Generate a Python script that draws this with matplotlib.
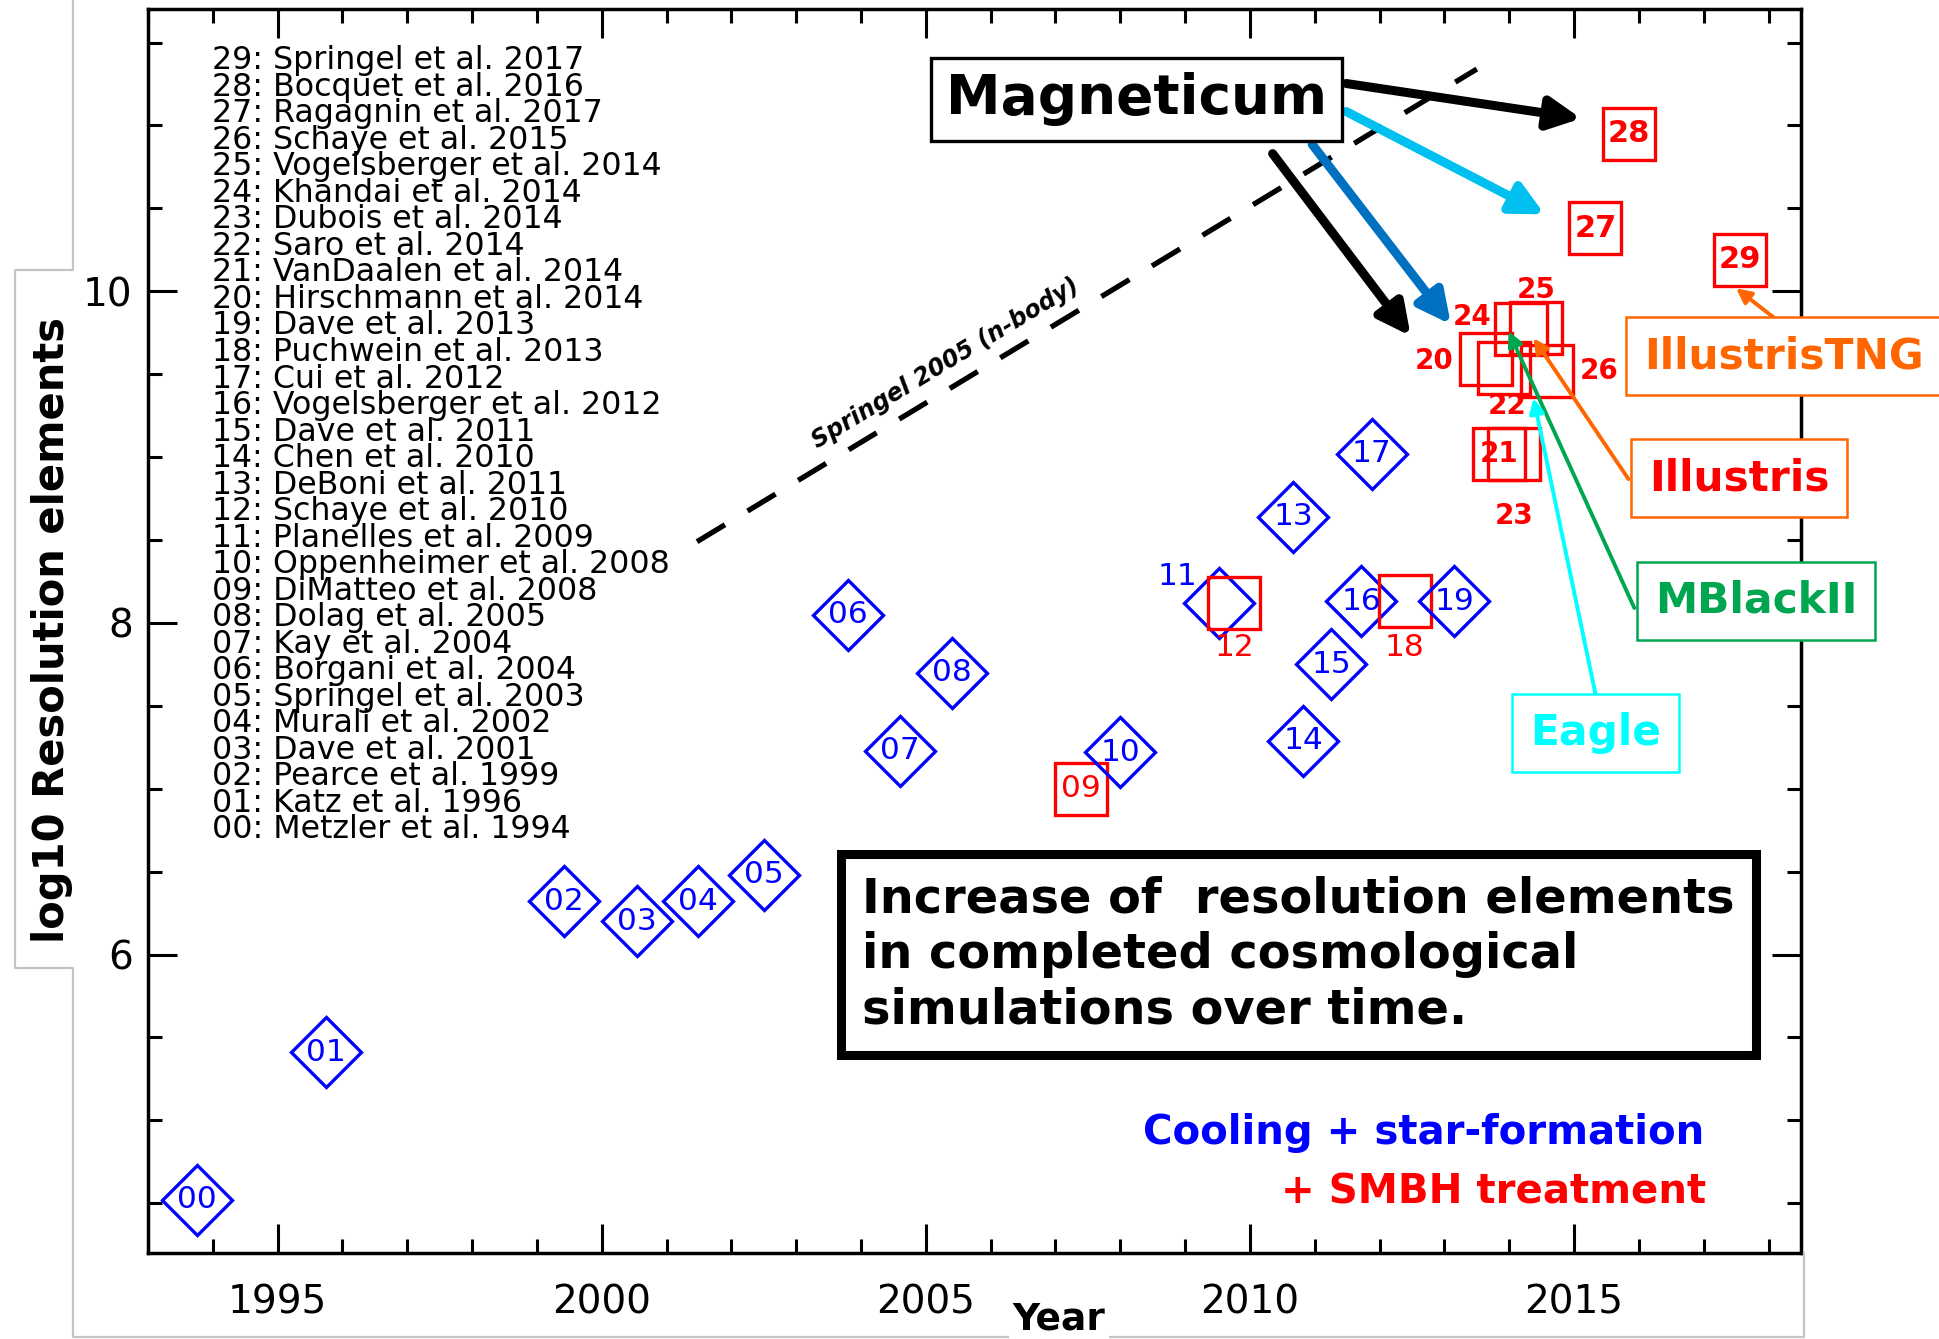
import matplotlib
matplotlib.use("Agg")
import matplotlib.pyplot as plt
from matplotlib.lines import Line2D
from matplotlib.ticker import MultipleLocator

#----------- Data -----------#
sim_ids = ["00", "01", "02", "03", "04", "05", "06", "07", "08", "09",
           "10", "11", "12", "13", "14", "15", "16", "17", "18", "19",
           "20", "21", "22", "23", "24", "25", "26", "27", "28", "29"]
sim_years = [1993.75, 1995.75, 1999.42, 2000.55, 2001.48, 2002.50, 2003.80, 2004.60, 2005.40, 2007.40,
             2008.00, 2009.52, 2009.76, 2010.67, 2010.82, 2011.25, 2011.72, 2011.88, 2012.39, 2013.15,
             2013.64, 2013.84, 2013.92, 2014.08, 2014.18, 2014.41, 2014.59, 2015.33, 2015.84, 2017.56]
sim_logn = [4.52, 5.41, 6.32, 6.20, 6.32, 6.48, 8.05, 7.23, 7.70, 7.00,
            7.22, 8.12, 8.12, 8.64, 7.29, 7.75, 8.13, 9.02, 8.13, 8.13,
            9.59, 9.02, 9.54, 9.02, 9.77, 9.78, 9.52, 10.38, 10.95, 10.19]
# runs with black hole treatment (red squares), the rest are blue diamonds
smbh_ids = ["09", "12", "18", "20", "21", "22", "23", "24", "25", "26", "27", "28", "29"]

ref_authors = ["Springel", "Bocquet", "Ragagnin", "Schaye", "Vogelsberger", "Khandai",
               "Dubois", "Saro", "VanDaalen", "Hirschmann", "Dave", "Puchwein", "Cui",
               "Vogelsberger", "Dave", "Chen", "DeBoni", "Schaye", "Planelles",
               "Oppenheimer", "DiMatteo", "Dolag", "Kay", "Borgani", "Springel",
               "Murali", "Dave", "Pearce", "Katz", "Metzler"]
ref_years = [2017, 2016, 2017, 2015, 2014, 2014, 2014, 2014, 2014, 2014, 2013, 2013, 2012,
             2012, 2011, 2010, 2011, 2010, 2009, 2008, 2008, 2005, 2004, 2004, 2003,
             2002, 2001, 1999, 1996, 1994]

# n-body reference line
springel_years = [2001.47, 2013.50]
springel_logn = [8.49, 11.34]

#----------- Style -----------#
BLUE = "#0000FF"
RED = "#FF0000"
ORANGE = "#FF6600"
GREEN = "#00A550"
CYAN = "#00FFFF"
SKY = "#00C0F0"
STEEL = "#0070C0"

label_offset = {"11": (-30, 19), "12": (0, -32), "18": (0, -33),
                "20": (-37, -1), "22": (2, -28), "23": (0, -45),
                "24": (-35, 9), "25": (0, 27), "26": (37, 0)}
bold_labels = {"20", "21", "22", "23", "24", "25", "26", "27", "28", "29"}

plt.rcParams['font.family'] = ['DejaVu Sans']

fig = plt.figure(figsize=(19.39, 13.39), dpi=100)
ax = fig.add_axes([0.0763, 0.0642, 0.8525, 0.9288])
ax.set_xlim(1993.0, 2018.5)
ax.set_ylim(4.2, 11.7)

# axes like an IDL plot: inward ticks on every side
ax.xaxis.set_major_locator(MultipleLocator(5))
ax.xaxis.set_minor_locator(MultipleLocator(1))
ax.yaxis.set_major_locator(MultipleLocator(2))
ax.yaxis.set_minor_locator(MultipleLocator(0.5))
ax.tick_params(which='both', direction='in', top=True, right=True, width=2.2, color='black')
ax.tick_params(which='major', length=21)
ax.tick_params(which='minor', length=10)
ax.tick_params(axis='x', labelsize=28, pad=22)
ax.tick_params(axis='y', labelsize=28, pad=11)
for s in ax.spines.values():
    s.set_linewidth(2.5)

#---- dashed n-body line ----#
ax.plot(springel_years, springel_logn, color='black', lw=3.8, dashes=(6.2, 5), zorder=2)
ax.text(2005.30, 9.566, "Springel 2005 (n-body)", rotation=31.1, rotation_mode='anchor',
        ha='center', va='center', fontsize=17, fontweight='bold', fontstyle='italic')

#---- simulations ----#
for sid, yr, ln in zip(sim_ids, sim_years, sim_logn):
    red = sid in smbh_ids
    col = RED if red else BLUE
    ax.plot(yr, ln, ls='none', marker='s' if red else 'D', ms=37 if red else 36,
            mfc='none', mec=col, mew=2.4, zorder=3, clip_on=False)
    dx, dy = label_offset.get(sid, (0, 0))
    bold = sid in bold_labels
    size = 22 if sid in ("27", "28", "29") else (20 if bold else 22.5)
    ax.annotate(sid, (yr, ln), xytext=(dx, dy), textcoords='offset points',
                ha='center', va='center', color=col,
                fontsize=size, fontweight='bold' if bold else 'normal',
                zorder=4)

#---- reference list (newest first, packed tightly) ----#
n_ref = len(ref_authors)
ref_lines = ["%02d: %s et al. %d" % (n_ref - 1 - i, name, yr)
             for i, (name, yr) in enumerate(zip(ref_authors, ref_years))]
ax.text(1993.99, 11.483, "\n".join(ref_lines), ha='left', va='top',
        fontsize=22.8, linespacing=0.813, color='black')

#---- Magneticum arrows ----#
thick = [((2011.485, 11.253), (2015.11, 11.042), 'black'),
         ((2011.485, 11.084), (2014.545, 10.464), SKY),
         ((2010.96, 10.886), (2013.10, 9.80), STEEL),
         ((2010.35, 10.83), (2012.48, 9.73), 'black')]
for start, tip, col in thick:
    ax.annotate("", xy=tip, xytext=start,
                arrowprops=dict(arrowstyle='-|>', color=col, lw=6.5, mutation_scale=48,
                                shrinkA=0, shrinkB=0), zorder=5)

ax.text(2008.254, 11.157, "Magneticum", ha='center', va='center', fontsize=39.5,
        fontweight='bold', zorder=6,
        bbox=dict(boxstyle='square,pad=0.27', fc='white', ec='black', lw=2.4))

#---- other code boxes ----#
thin = [((2018.25, 9.79), (2017.50, 10.018), ORANGE),
        ((2015.84, 8.867), (2014.375, 9.717), ORANGE),
        ((2015.93, 8.09), (2013.99, 9.759), GREEN),
        ((2015.33, 7.572), (2014.375, 9.355), CYAN)]
for start, tip, col in thin:
    ax.annotate("", xy=tip, xytext=start,
                arrowprops=dict(arrowstyle='-|>', color=col, lw=2.8, mutation_scale=22,
                                shrinkA=0, shrinkB=0), zorder=5)

boxes = [("IllustrisTNG", 2018.238, 9.608, ORANGE, ORANGE),
         ("Illustris", 2017.546, 8.873, RED, ORANGE),
         ("MBlackII", 2017.808, 8.133, GREEN, GREEN),
         ("Eagle", 2015.33, 7.337, CYAN, CYAN)]
for txt, x, y, tc, ec in boxes:
    ax.text(x, y, txt, ha='center', va='center', fontsize=30.5, fontweight='bold',
            color=tc, zorder=6, clip_on=False,
            bbox=dict(boxstyle='square,pad=0.42', fc='white', ec=ec, lw=1.8))

#---- caption box and legend ----#
ax.text(2004.02, 6.0, "Increase of  resolution elements\nin completed cosmological\nsimulations over time.",
        ha='left', va='center', fontsize=34.5, fontweight='bold', linespacing=1.22, zorder=6,
        bbox=dict(boxstyle='square,pad=0.45', fc='white', ec='black', lw=6.5))
ax.text(2017.01, 4.922, "Cooling + star-formation", ha='right', va='center',
        fontsize=29, fontweight='bold', color=BLUE)
ax.text(2017.04, 4.566, "+ SMBH treatment", ha='right', va='center',
        fontsize=29, fontweight='bold', color=RED)

#---- axis titles and outer frame ----#
W, H = 1939.0, 1339.0
frame_x = [73, 73, 15, 15, 73, 73, 1804, 1804]
frame_y = [0, 270, 270, 968, 968, 1337, 1337, 1253]
fig.add_artist(Line2D([x / W for x in frame_x], [1 - y / H for y in frame_y],
                      transform=fig.transFigure, color='#C4C4C4', lw=1.6))
fig.text(52 / W, 1 - 630 / H, "log10 Resolution elements", rotation=90, ha='center', va='center',
         fontsize=30, fontweight='bold')
fig.text(1059 / W, 1 - 1320 / H, "Year", ha='center', va='center', fontsize=27, fontweight='bold',
         bbox=dict(boxstyle='square,pad=0.1', fc='white', ec='none'))

fig.savefig("out.png", dpi=100)
